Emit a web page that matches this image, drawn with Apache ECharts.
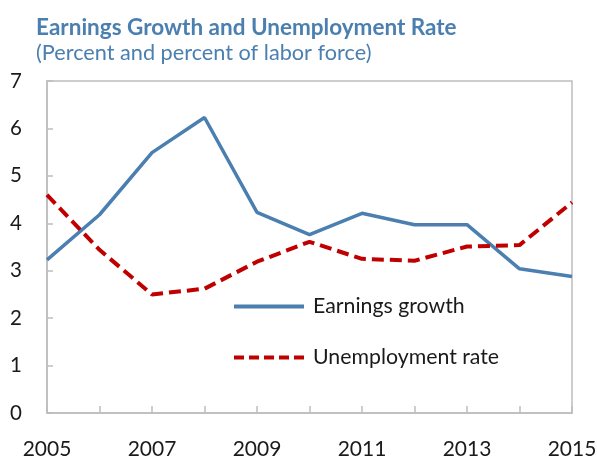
<!DOCTYPE html>
<html>
<head>
<meta charset="utf-8">
<script src="https://cdn.jsdelivr.net/npm/echarts@6/dist/echarts.min.js"></script>
<style>
  html, body { margin: 0; padding: 0; background: #fff; }
  #chart { width: 597px; height: 456px; }
</style>
</head>
<body>
<div id="chart"></div>
<script>
// Years on the horizontal axis
const years = ['2005', '2006', '2007', '2008', '2009', '2010', '2011', '2012', '2013', '2014', '2015'];
// Annual earnings growth, percent
const earningsGrowth = [3.23, 4.18, 5.49, 6.23, 4.23, 3.76, 4.21, 3.97, 3.97, 3.04, 2.88];
// Unemployment rate, percent of labor force
const unemploymentRate = [4.6, 3.44, 2.5, 2.62, 3.19, 3.61, 3.25, 3.21, 3.51, 3.54, 4.44];

const titleText = 'Earnings Growth and Unemployment Rate';
const subtitleText = '(Percent and percent of labor force)';

const FONT = 'Lato, "Noto Sans", sans-serif';
const BLUE = '#4a7fb0';
const RED = '#c00000';
const FRAME = '#bdbdbd';

// Legend keys: a solid bar and a row of dashes, both 70 x 4
const SOLID_KEY = 'path://M0,0 L70,0 L70,4 L0,4 Z';
const DASH_KEY = 'path://M0,0h10v4h-10z M15,0h10v4h-10z M30,0h10v4h-10z M45,0h10v4h-10z M60,0h10v4h-10z';

const chart = echarts.init(document.getElementById('chart'), null, { renderer: 'canvas' });

chart.setOption({
  animation: false,
  backgroundColor: '#ffffff',
  title: {
    text: titleText,
    subtext: subtitleText,
    left: 31,
    top: 11,
    itemGap: 3,
    textStyle: { color: BLUE, fontFamily: FONT, fontWeight: 'bold', fontSize: 22.5 },
    subtextStyle: { color: BLUE, fontFamily: FONT, fontSize: 21.7 }
  },
  legend: {
    orient: 'vertical',
    left: 229,
    top: 291,
    itemGap: 30,
    itemWidth: 70,
    itemHeight: 4,
    textStyle: { fontFamily: FONT, fontSize: 21.3, color: '#1a1a1a', padding: [0, 0, 0, 4] },
    data: [
      { name: 'Earnings growth', icon: SOLID_KEY },
      { name: 'Unemployment rate', icon: DASH_KEY }
    ]
  },
  grid: {
    left: 47,
    right: 25,
    top: 81,
    bottom: 43,
    outerBoundsMode: 'none',
    containLabel: false,
    show: true,
    borderColor: FRAME,
    borderWidth: 1.5,
    backgroundColor: 'transparent'
  },
  xAxis: {
    type: 'category',
    data: years,
    boundaryGap: false,
    axisLine: { lineStyle: { color: FRAME, width: 1.5 } },
    axisTick: { inside: true, length: 7, interval: 0, lineStyle: { color: FRAME, width: 1.5 } },
    axisLabel: { interval: 1, margin: 26, fontFamily: FONT, fontSize: 21, color: '#1a1a1a' },
    splitLine: { show: false }
  },
  yAxis: {
    type: 'value',
    min: 0,
    max: 7,
    interval: 1,
    axisLine: { show: true, lineStyle: { color: FRAME, width: 1.5 } },
    axisTick: { show: true, inside: true, length: 6, lineStyle: { color: FRAME, width: 1.5 } },
    axisLabel: { margin: 25, fontFamily: FONT, fontSize: 20.5, color: '#1a1a1a' },
    splitLine: { show: false }
  },
  series: [
    {
      name: 'Earnings growth',
      type: 'line',
      data: earningsGrowth,
      symbol: 'none',
      color: BLUE,
      lineStyle: { color: BLUE, width: 3.5 }
    },
    {
      name: 'Unemployment rate',
      type: 'line',
      data: unemploymentRate,
      symbol: 'none',
      color: RED,
      lineStyle: { color: RED, width: 4, type: [12, 6] }
    }
  ]
});
</script>
</body>
</html>
